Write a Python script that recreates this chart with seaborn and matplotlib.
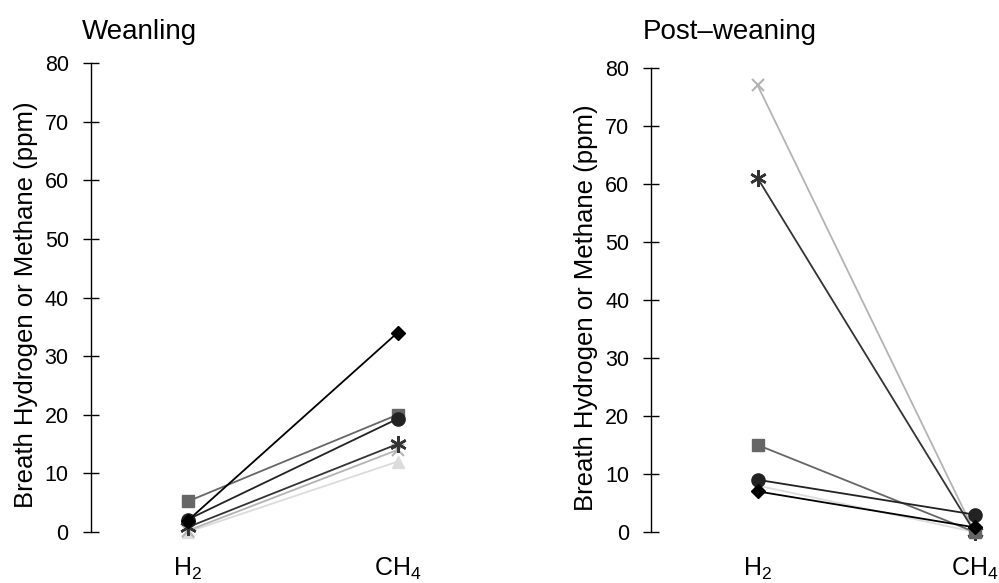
import matplotlib
matplotlib.use("Agg")
import matplotlib.pyplot as plt
import pandas as pd
import seaborn as sns

# ------------------------------------------------------------------
# Données : un animal par série, H2 puis CH4 (ppm)
# ------------------------------------------------------------------
gases = ["H$_2$", "CH$_4$"]
animals = ["tri", "cross", "star", "square", "circle", "diamond"]

weanling_h2 = [0.0, 0.2, 0.8, 5.2, 2.1, 1.9]
weanling_ch4 = [12.0, 14.0, 15.0, 20.0, 19.3, 34.0]
post_h2 = [8.0, 77.0, 61.0, 15.0, 9.0, 7.0]
post_ch4 = [0.0, 0.0, 0.0, 0.0, 3.0, 0.8]

panel_titles = ["Weanling", "Post\u2013weaning"]
y_ticks = [0, 10, 20, 30, 40, 50, 60, 70, 80]

colors = ["#dcdcdc", "#b3b3b3", "#333333", "#666666", "#222222", "#000000"]
markers = ["^", "x", (6, 2, 0), "s", "o", "D"]
marker_sizes = [9, 9, 12, 9, 9.5, 7]
marker_edges = [1.0, 1.5, 1.8, 1.0, 1.0, 1.0]


def to_long(h2, ch4):
    rows = []
    for a, v1, v2 in zip(animals, h2, ch4):
        rows.append({"animal": a, "gas": gases[0], "ppm": v1})
        rows.append({"animal": a, "gas": gases[1], "ppm": v2})
    return pd.DataFrame(rows)


sns.set_style("ticks")
plt.rcParams["font.family"] = ["Liberation Sans", "DejaVu Sans"]
plt.rcParams["mathtext.fontset"] = "custom"
plt.rcParams["mathtext.rm"] = "Liberation Sans"
plt.rcParams["mathtext.it"] = "Liberation Sans"
for key in ["text.color", "axes.labelcolor", "xtick.color", "ytick.color", "axes.edgecolor"]:
    plt.rcParams[key] = "black"

fig = plt.figure(figsize=(9.99, 5.83), dpi=100)
ax_left = fig.add_axes([0.091, 0.0674, 0.349, 0.8446])
ax_right = fig.add_axes([0.652, 0.0676, 0.367, 0.8357])

panels = [
    (ax_left, to_long(weanling_h2, weanling_ch4), (-0.46, 1.2), -0.152, 0.082),
    (ax_right, to_long(post_h2, post_ch4), (-0.49, 1.2), -0.145, 0.643),
]

for (ax, df, xlim, label_x, title_x), title in zip(panels, panel_titles):
    sns.pointplot(
        data=df, x="gas", y="ppm", hue="animal",
        order=gases, hue_order=animals,
        palette=colors, markers=markers, linestyles="-",
        dodge=False, errorbar=None, legend=False, ax=ax,
        markersize=9, linewidth=1.3,
    )
    # taille de marqueur propre à chaque série
    for line, ms, mew in zip(ax.lines, marker_sizes, marker_edges):
        line.set_markersize(ms)
        line.set_markeredgewidth(mew)

    ax.set_xlim(*xlim)
    ax.set_ylim(-2, 82)
    ax.set_yticks(y_ticks)
    sns.despine(ax=ax, bottom=True)
    ax.spines["left"].set_bounds(0, 80)
    ax.spines["left"].set_linewidth(1.0)
    ax.tick_params(axis="y", direction="inout", length=12, width=1.0,
                   labelsize=15.5, pad=10)
    ax.tick_params(axis="x", length=0, labelsize=18, pad=9)
    ax.set_xlabel("")
    ax.set_ylabel("Breath Hydrogen or Methane (ppm)", fontsize=18.5)
    ax.yaxis.set_label_coords(label_x, 0.485)
    fig.text(title_x, 0.933, title, fontsize=20, ha="left", va="baseline")

fig.savefig("out.png", dpi=100)
